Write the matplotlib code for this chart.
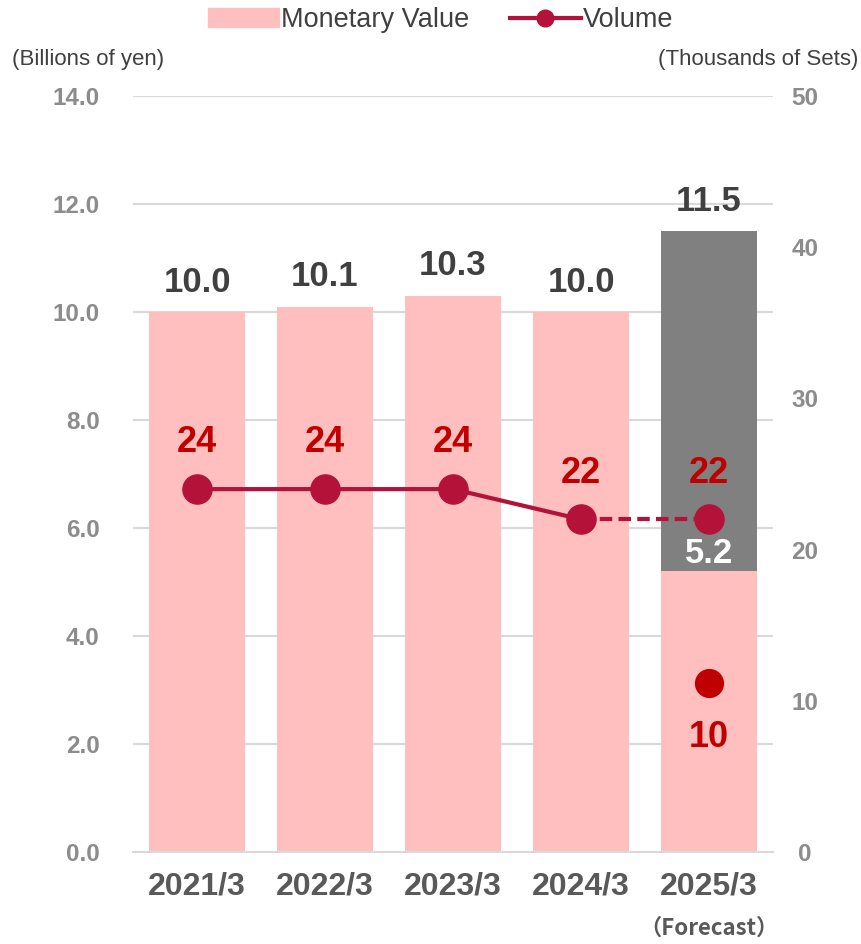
import numpy as np
import matplotlib.pyplot as plt
from matplotlib.patches import Patch
from matplotlib.lines import Line2D

years = ["2021/3", "2022/3", "2023/3", "2024/3", "2025/3"]
value = [10.0, 10.1, 10.3, 10.0, 5.2]
value_extra = [0, 0, 0, 0, 6.3]
value_total = [10.0, 10.1, 10.3, 10.0, 11.5]
volume = [24, 24, 24, 22, 22]
new_volume = 10

PINK = "#FFBFBF"
GREY = "#808080"
LINE = "#B5123A"
RED = "#C00000"
DARK = "#404040"
TICK = "#8C8C8C"
NARROW = ["Liberation Sans Narrow", "Liberation Sans", "DejaVu Sans"]
BOLD = ["Liberation Sans", "DejaVu Sans"]

fig = plt.figure(figsize=(8.61, 9.44), dpi=100)
ax = fig.add_axes([133/861, 92/944, 640/861, 756/944])
ax2 = ax.twinx()

x = np.arange(len(years))
ax.bar(x, value, width=0.75, color=PINK, zorder=2)
ax.bar(x, value_extra, bottom=value, width=0.75, color=GREY, zorder=2)

ax.set_xlim(-0.5, 4.5)
ax.set_ylim(0, 14)
ax.set_yticks(np.arange(0, 14.1, 2))
ax.set_yticklabels([f"{v:.1f}" for v in np.arange(0, 14.1, 2)])
ax.grid(axis="y", color="#D9D9D9", linewidth=1.5, zorder=0)
ax.set_axisbelow(True)
for s in ax.spines.values():
    s.set_visible(False)
for s in ax2.spines.values():
    s.set_visible(False)
ax.spines["bottom"].set_visible(True)
ax.spines["bottom"].set_color("#D9D9D9")
ax.spines["bottom"].set_linewidth(1.5)
ax.tick_params(length=0)
ax.tick_params(axis="y", pad=24)
ax.set_xticks(x)
ax.set_xticklabels(years, fontsize=23, fontweight="bold", color="#595959", family=BOLD)
ax.tick_params(axis="x", pad=14)
for lb in ax.get_yticklabels():
    lb.set_fontsize(17.5)
    lb.set_fontweight("bold")
    lb.set_color(TICK)
    lb.set_family(NARROW)

ax2.set_ylim(0, 50)
ax2.set_yticks(range(0, 51, 10))
ax2.tick_params(length=0, pad=23)
for lb in ax2.get_yticklabels():
    lb.set_fontsize(17.5)
    lb.set_fontweight("bold")
    lb.set_color(TICK)
    lb.set_family(NARROW)
    lb.set_horizontalalignment("center")

# bar value labels
for i in range(len(years)):
    ax.text(x[i], value_total[i] + 0.25, f"{value_total[i]:.1f}", ha="center", va="bottom",
            fontsize=25, fontweight="bold", color=DARK, family=BOLD, zorder=5)
ax.text(x[4], value[4] + 0.02, f"{value[4]:.1f}", ha="center", va="bottom",
        fontsize=25, fontweight="bold", color="white", family=BOLD, zorder=5)

# volume line
ax2.plot(x[:4], volume[:4], color=LINE, linewidth=3, marker="o", markersize=21, zorder=4)
ax2.plot(x[3:], volume[3:], color=LINE, linewidth=3, linestyle=(0, (3, 1.5)), zorder=4)
ax2.plot(x[4], volume[4], marker="o", markersize=21, color=LINE, zorder=4)
for i in range(len(years)):
    ax2.text(x[i], volume[i] + 1.9, str(volume[i]), ha="center", va="bottom",
             fontsize=26, fontweight="bold", color=RED, family=BOLD, zorder=5)
ax2.plot(x[4], new_volume + 1.2, marker="o", markersize=20, color=RED, zorder=4)
ax2.text(x[4], new_volume - 1.3, str(new_volume), ha="center", va="top",
         fontsize=26, fontweight="bold", color=RED, family=BOLD, zorder=5)

fig.text(709/861, 1 - 928/944, "（Forecast）", ha="center", va="center",
         fontsize=16, fontweight="bold", color="#595959",
         family=["Noto Sans CJK JP", "DejaVu Sans"])

fig.text(12/861, 1 - 60/944, "(Billions of yen)", ha="left", va="center",
         fontsize=16, color=DARK, family=NARROW)
fig.text(858/861, 1 - 60/944, "(Thousands of Sets)", ha="right", va="center",
         fontsize=16, color=DARK, family=NARROW)

handles = [Patch(color=PINK, label="Monetary Value"),
           Line2D([], [], color=LINE, linewidth=3, marker="o", markersize=12, label="Volume")]
fig.legend(handles=handles, loc="center", bbox_to_anchor=(441/861, 1 - 20/944), ncol=2,
           frameon=False, handlelength=2.6, handletextpad=0.1, columnspacing=1.5,
           prop={"family": NARROW, "size": 19.5}, labelcolor=DARK)

fig.savefig("out.png", dpi=100)
